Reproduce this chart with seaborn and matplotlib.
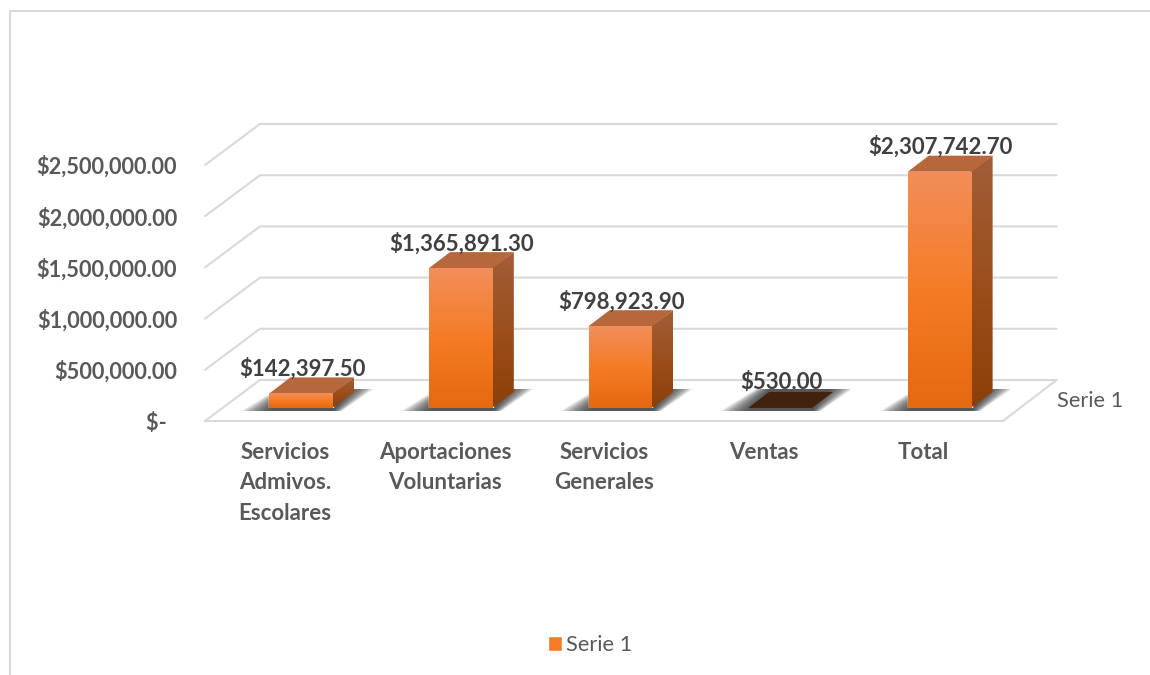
import numpy as np
import pandas as pd
import matplotlib
matplotlib.use("Agg")
import matplotlib.pyplot as plt
import seaborn as sns
from matplotlib.colors import LinearSegmentedColormap
from matplotlib.lines import Line2D
from matplotlib.patches import Polygon
from matplotlib.transforms import Affine2D

# Values
categories = ["Servicios\nAdmivos.\nEscolares", "Aportaciones\nVoluntarias",
              "Servicios\nGenerales", "Ventas", "Total"]
values = [142397.50, 1365891.30, 798923.90, 530.00, 2307742.70]
value_labels = ["$142,397.50", "$1,365,891.30", "$798,923.90", "$530.00", "$2,307,742.70"]
y_ticks = [0, 500000, 1000000, 1500000, 2000000, 2500000]
y_tick_labels = ["$-  ", "$500,000.00", "$1,000,000.00", "$1,500,000.00",
                 "$2,000,000.00", "$2,500,000.00"]
series_name = "Serie 1"

sns.set_theme(style="white")
plt.rcParams['font.family'] = ['Lato', 'DejaVu Sans']

W, H = 1150, 675
GRID = "#D9D9D9"
FRONT = ["#F28E5A", "#F57C26", "#E4690F"]
SIDE = ["#A25E38", "#9A4F1C", "#8C3F08"]
TOP = "#B6673C"
TOP_EMPTY = "#42210D"

fig = plt.figure(figsize=(W / 100, H / 100), dpi=100, facecolor="white")
# axes box is the plane the bars stand on, everything else is offset from it
left, right, base, top = 221.5, 1019.5, 408, 152
ax = fig.add_axes([left / W, (H - base) / H, (right - left) / W, (base - top) / H])

df = pd.DataFrame({"cat": categories, "val": values})
sns.barplot(data=df, x="cat", y="val", color=FRONT[1], width=0.4, saturation=1,
            label=series_name, ax=ax, zorder=3)
ax.set_xlim(-0.5, 4.5)
ax.set_ylim(0, y_ticks[-1])
ax.set_xlabel("")
ax.set_ylabel("")
sns.despine(ax=ax, left=True, bottom=True)

px_x = (right - left) / 5
px_y = (base - top) / y_ticks[-1]


def off(x, y, dx=0, dy=0):
    # shift a data point by a number of pixels (dy up)
    return (x + dx / px_x, y + dy / px_y)


# walls and floor
for v in y_ticks:
    a = off(-0.5, v, -16.5, -13)
    b = off(-0.5, v, 38.5, 28)
    c = off(4.5, v, 37, 28)
    ax.plot([a[0], b[0], c[0]], [a[1], b[1], c[1]], color=GRID, lw=1.5, zorder=1, clip_on=False)
fa, fb = off(-0.5, 0, -16.5, -13), off(4.5, 0, -16.5, -13)
fc = off(4.5, 0, 37, 28)
ax.plot([fa[0], fb[0], fc[0]], [fa[1], fb[1], fc[1]], color=GRID, lw=1.5, zorder=1, clip_on=False)


def grad_fill(verts, colors, z):
    poly = Polygon(verts, closed=True, fc="none", ec="none", zorder=z)
    ax.add_patch(poly)
    xs, ys = zip(*verts)
    cmap = LinearSegmentedColormap.from_list("g", colors)
    im = ax.imshow(np.linspace(0, 1, 256)[:, None], cmap=cmap, aspect="auto", origin="upper",
                   extent=(min(xs), max(xs), min(ys), max(ys)), zorder=z)
    im.set_clip_path(poly)


depth_x, depth_y = 21, 16
bars = [p for p in ax.patches if p.get_width() > 0]
for patch, val, lab in zip(bars, values, value_labels):
    x0 = patch.get_x()
    x1 = x0 + patch.get_width()
    h = patch.get_height()

    # floor shadow, stacked see-through polygons so the side edges fade
    for g in np.linspace(0, 28, 20):
        pts = [off(x0, 0, -g, -3), off(x1, 0, g * 0.3, -3),
               off(x1, 0, 18 + g * 0.8, 19), off(x0, 0, 22 - g * 0.5, 19)]
        ax.add_patch(Polygon(pts, closed=True, fc="#303030", ec="none", alpha=0.075,
                             zorder=2, clip_on=False))

    # top face
    top_col = TOP_EMPTY if h * px_y < 2 else TOP
    ax.add_patch(Polygon([off(x0, h), off(x1, h), off(x1, h, depth_x, depth_y), off(x0, h, depth_x, depth_y)],
                         closed=True, fc=top_col, ec="none", zorder=3.2))
    # side and front faces
    if h * px_y >= 2:
        grad_fill([off(x1, 0, -1), off(x1, h, -1), off(x1, h, depth_x, depth_y), off(x1, 0, depth_x, depth_y)], SIDE, 3.1)
        grad_fill([(x0, 0), (x1, 0), (x1, h), (x0, h)], FRONT, 3.3)

    ax.annotate(lab, xy=((x0 + x1) / 2, val), xytext=(1, 25), textcoords="offset pixels",
                ha="center", va="center", fontsize=16, fontweight="bold", color="#404040",
                zorder=6, annotation_clip=False)

ax.set_xlim(-0.5, 4.5)
ax.set_ylim(0, y_ticks[-1])

ax.set_yticks(y_ticks)
ax.set_yticklabels(y_tick_labels)
ax.tick_params(axis="y", length=0, pad=32, labelsize=15.7, labelcolor="#595959")
ax.tick_params(axis="x", length=0, pad=24.5, labelsize=16, labelcolor="#595959")
for t in ax.get_yticklabels():
    t.set_fontweight("bold")
    t.set_transform(t.get_transform() + Affine2D().translate(0, -13))
for t in ax.get_xticklabels():
    t.set_fontweight("bold")
    t.set_linespacing(1.55)
    t.set_transform(t.get_transform() + Affine2D().translate(-16, 0))

# depth axis label
fig.text(1057 / W, 1 - 401 / H, series_name, fontsize=15.7, color="#595959", va="center")

handles, labels = ax.get_legend_handles_labels()
ax.legend(handles[:1], labels[:1], loc="center", bbox_to_anchor=(590 / W, 1 - 645 / H),
          bbox_transform=fig.transFigure, frameon=False, fontsize=15.7, labelcolor="#595959",
          handlelength=0.65, handleheight=0.65, handletextpad=0.2)

# chart area border (top and left only are in frame)
fig.add_artist(Line2D([9.5 / W, 9.5 / W, 1], [0, 1 - 10.5 / H, 1 - 10.5 / H], color=GRID, lw=1.5))

fig.savefig("out.png", dpi=100)
